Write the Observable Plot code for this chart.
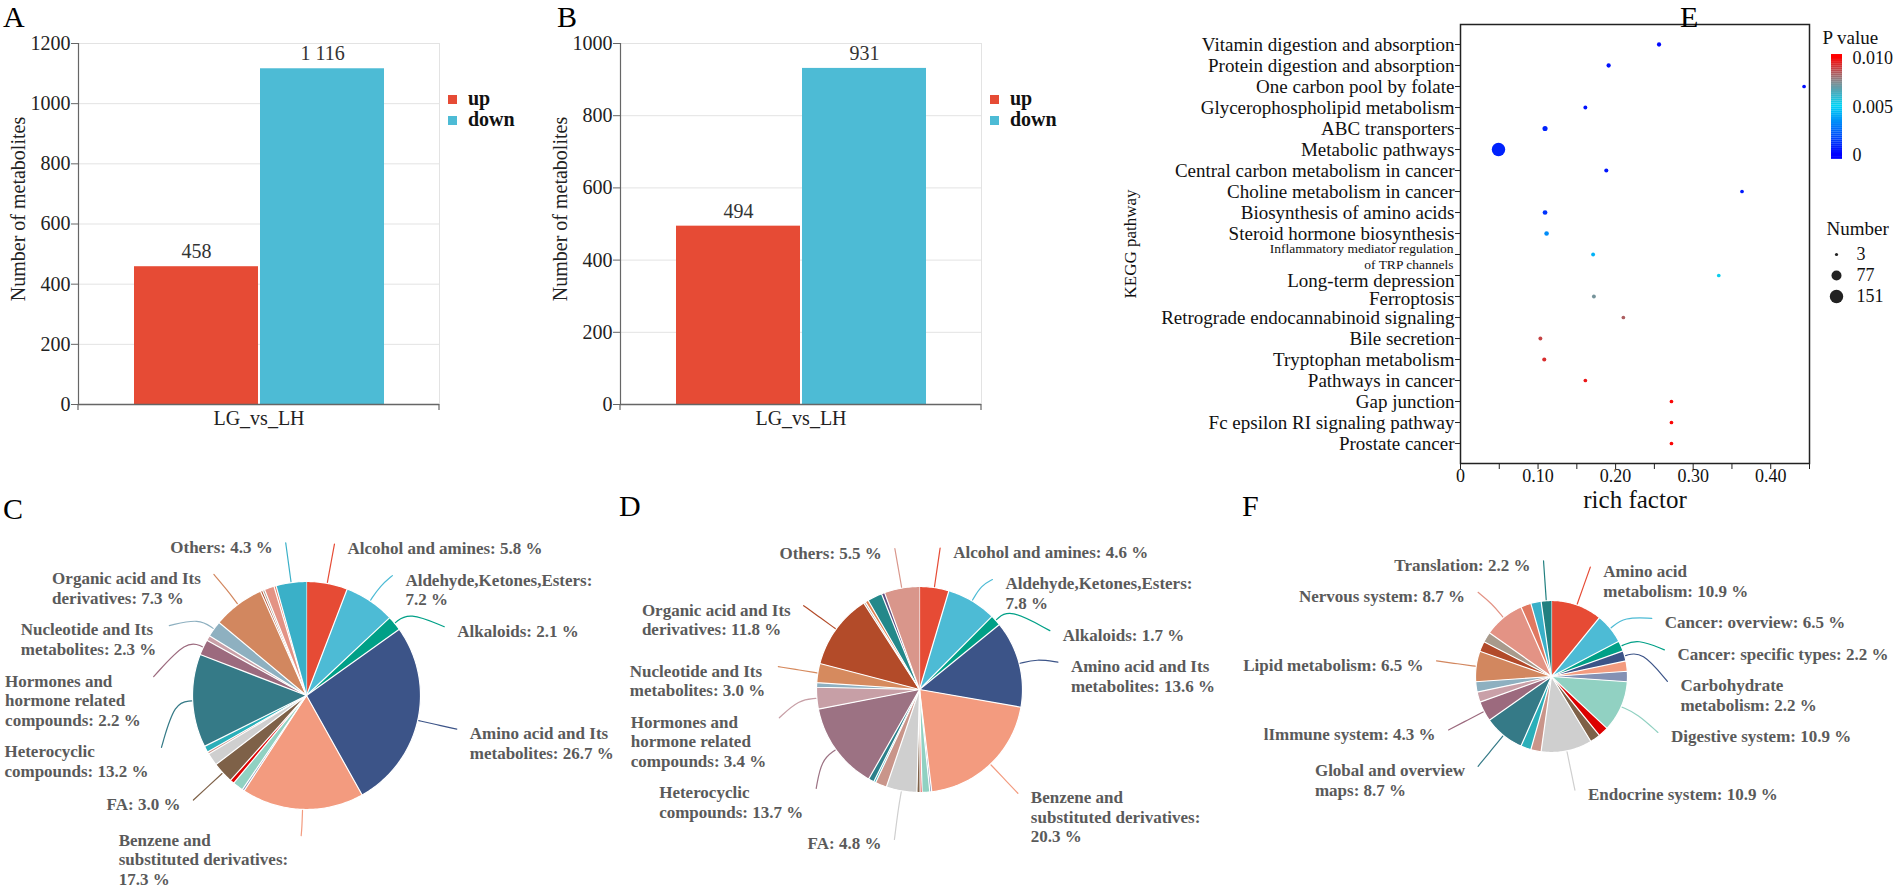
<!DOCTYPE html>
<html><head><meta charset="utf-8">
<script src="https://cdn.jsdelivr.net/npm/d3@7"></script>
<script src="https://cdn.jsdelivr.net/npm/@observablehq/plot@0.6"></script>
<style>
body{margin:0;background:#fff;}
#fig{position:relative;width:1904px;height:890px;overflow:hidden;font-family:"Liberation Serif","Times New Roman",serif;background:#fff;}
.letter{position:absolute;font-size:30px;line-height:30px;color:#000;}
.leg{position:absolute;font-weight:bold;font-size:20px;line-height:21px;color:#111;white-space:nowrap}
.leg .sw{display:inline-block;width:9px;height:9px;margin-right:11px;vertical-align:1px}
</style></head><body><div id="fig"></div><script>
// ---------------- DATA ----------------
// Panels A & B
const groupLabel = "LG_vs_LH";
const regulation = ["up", "down"];
const regulationColors = ["#E64B35", "#4DBBD5"];
const countsA = [458, 1116];
const countsB = [494, 931];
const yTicksA = [0, 200, 400, 600, 800, 1000, 1200];
const yTicksB = [0, 200, 400, 600, 800, 1000];
const barYLabel = "Number of metabolites";

// Panel E
const pathways = ["Vitamin digestion and absorption","Protein digestion and absorption","One carbon pool by folate","Glycerophospholipid metabolism","ABC transporters","Metabolic pathways","Central carbon metabolism in cancer","Choline metabolism in cancer","Biosynthesis of amino acids","Steroid hormone biosynthesis","Inflammatory mediator regulation of TRP channels","Long-term depression","Ferroptosis","Retrograde endocannabinoid signaling","Bile secretion","Tryptophan metabolism","Pathways in cancer","Gap junction","Fc epsilon RI signaling pathway","Prostate cancer"];
const richFactor = [0.256,0.191,0.443,0.161,0.109,0.049,0.188,0.363,0.109,0.111,0.171,0.333,0.172,0.210,0.103,0.108,0.161,0.272,0.272,0.272];
const pValue = [0.0002,0.0004,0.0003,0.0004,0.0008,0.0008,0.0005,0.0006,0.0012,0.0033,0.0042,0.0052,0.0072,0.0083,0.0088,0.0092,0.0096,0.0099,0.0099,0.0099];
const hitCount = [8,8,5,6,14,151,7,5,11,10,6,5,6,5,6,7,5,5,5,5];
const richTicks = [0,0.05,0.10,0.15,0.20,0.25,0.30,0.35,0.40,0.45];
const pStops = [0, 0.005, 0.0075, 0.010];
const pColors = ["#0000ff", "#00d4f5", "#858a8e", "#ff0000"];
const pLegendTicks = [0, 0.005, 0.010];
const sizeLegend = [3, 77, 151];

// Panel C
const valuesC = [5.8,7.2,2.1,26.7,17.3,0.3,1.5,0.6,3.0,1.8,0.3,0.9,13.2,2.2,0.7,2.3,7.3,0.3,0.3,1.4,0.3,4.3];
const colorsC = ["#E64B35","#4DBBD5","#00A087","#3C5488","#F39B7F","#8491B4","#91D1C2","#DC0000","#7E6148","#CFCFCF","#C9958A","#2AAFB9","#357A87","#9C6A7E","#C9A0A8","#8EB0C0","#D2875F","#B24A2A","#A89A8C","#E39385","#E07860","#3AB0C8"];
const labelsC = ["Alcohol and amines: 5.8 %","Aldehyde,Ketones,Esters:\n7.2 %","Alkaloids: 2.1 %","Amino acid and Its\nmetabolites: 26.7 %","Benzene and\nsubstituted derivatives:\n17.3 %",null,null,null,"FA: 3.0 %",null,null,null,"Heterocyclic\ncompounds: 13.2 %","Hormones and\nhormone related\ncompounds: 2.2 %",null,"Nucleotide and Its\nmetabolites: 2.3 %","Organic acid and Its\nderivatives: 7.3 %",null,null,null,null,"Others: 4.3 %"];

// Panel D
const valuesD = [4.6,7.8,1.7,13.6,20.3,0.3,1.2,0.3,0.5,4.8,1.8,0.3,0.9,13.7,3.4,0.7,3.0,11.8,0.3,0.5,2.3,0.5,5.5];
const colorsD = ["#E64B35","#4DBBD5","#00A087","#3C5488","#F39B7F","#8491B4","#91D1C2","#DC0000","#7E6148","#CFCFCF","#C9958A","#2AAFB9","#2A7F8A","#9C7283","#C79FA6","#8EB0C0","#D68A5E","#B34B29","#A89A8C","#E08050","#24888A","#5E4F80","#D9968B"];
const labelsD = ["Alcohol and amines: 4.6 %","Aldehyde,Ketones,Esters:\n7.8 %","Alkaloids: 1.7 %","Amino acid and Its\nmetabolites: 13.6 %","Benzene and\nsubstituted derivatives:\n20.3 %",null,null,null,null,"FA: 4.8 %",null,null,null,"Heterocyclic\ncompounds: 13.7 %","Hormones and\nhormone related\ncompounds: 3.4 %",null,"Nucleotide and Its\nmetabolites: 3.0 %","Organic acid and Its\nderivatives: 11.8 %",null,null,null,null,"Others: 5.5 %"];

// Panel F
const valuesF = [10.9,6.5,2.2,2.2,2.2,2.2,10.9,2.2,2.2,10.9,2.2,2.2,8.7,4.3,2.2,2.2,6.5,2.2,2.2,8.7,2.2,2.2,2.2];
const colorsF = ["#E64B35","#4DBBD5","#00A087","#3C5488","#F39B7F","#8491B4","#91D1C2","#DC0000","#7E6148","#CFCFCF","#C9958A","#2AAFB9","#357A87","#9C6A7E","#C9A0A8","#8EB0C0","#D2875F","#B24A2A","#A89A8C","#E39385","#E07860","#3AB0C8","#228080"];
const labelsF = ["Amino acid\nmetabolism: 10.9 %","Cancer: overview: 6.5 %","Cancer: specific types: 2.2 %","Carbohydrate\nmetabolism: 2.2 %",null,null,"Digestive system: 10.9 %",null,null,"Endocrine system: 10.9 %",null,null,"Global and overview\nmaps: 8.7 %","lImmune system: 4.3 %",null,null,"Lipid metabolism: 6.5 %",null,null,"Nervous system: 8.7 %",null,null,"Translation: 2.2 %"];

// ---------------- RENDER ----------------
const SERIF = "'Liberation Serif', 'Times New Roman', serif";
const fig = document.getElementById("fig");
function place(el, left, top) { el.style.position = "absolute"; el.style.left = left + "px"; el.style.top = top + "px"; fig.appendChild(el); return el; }
function letter(t, x, y) { const d = document.createElement("div"); d.className = "letter"; d.textContent = t; place(d, x, y); }
const spaced = d3.formatLocale({decimal: ".", thousands: " ", grouping: [3], currency: ["", ""]}).format(",");

const endTicks = (index, scales, values, dims) => {
  const g = d3.create("svg:g");
  const y = dims.height - dims.marginBottom;
  for (const x of [dims.marginLeft, dims.width - dims.marginRight])
    g.append("line").attr("x1", x).attr("x2", x).attr("y1", y).attr("y2", y + 6).attr("stroke", "#666").attr("stroke-width", 1.2);
  return g.node();
};

function barPanel(counts, ticks, left) {
  const data = regulation.map((r, i) => ({reg: r, count: counts[i]}));
  const p = Plot.plot({
    width: 445, height: 440, marginLeft: 78, marginRight: 6, marginTop: 43, marginBottom: 36,
    style: {fontFamily: SERIF, background: "transparent", overflow: "visible", color: "#222"},
    x: {domain: regulation, paddingInner: 0.016, paddingOuter: 0.44, axis: null},
    y: {domain: [0, d3.max(ticks)], axis: null},
    color: {domain: regulation, range: regulationColors},
    marks: [
      Plot.gridY(ticks.slice(1), {stroke: "#e3e3e3", strokeOpacity: 1}),
      Plot.frame({anchor: "right", stroke: "#e3e3e3"}),
      Plot.barY(data, {x: "reg", y: "count", fill: "reg"}),
      Plot.axisY(ticks, {tickSize: 7, tickPadding: 1, fontSize: 20, stroke: "#666", label: null, tickFormat: d => String(d)}),
      Plot.frame({anchor: "left", stroke: "#666", strokeWidth: 1.2}),
      Plot.ruleY([0], {stroke: "#666", strokeWidth: 1.5}),
      endTicks,
      Plot.text(data, {x: "reg", y: "count", text: d => spaced(d.count), dy: -15, fontSize: 20, fill: "#333"}),
      Plot.text([groupLabel], {frameAnchor: "bottom", lineAnchor: "middle", textAnchor: "middle", dy: 14, fontSize: 20, fill: "#222"}),
      Plot.text([barYLabel], {frameAnchor: "left", textAnchor: "middle", lineAnchor: "middle", rotate: -90, dx: -60, dy: -15, fontSize: 20, fill: "#222"})
    ]
  });
  place(p, left, 0);
  const leg = document.createElement("div");
  leg.className = "leg";
  leg.innerHTML = regulation.map((r, i) => `<div><span class="sw" style="background:${regulationColors[i]}"></span>${r}</div>`).join("");
  place(leg, left + 448, 88);
}
barPanel(countsA, yTicksA, 0);
barPanel(countsB, yTicksB, 542);

// Panel E
const eData = pathways.map((p, i) => ({pathway: p, rf: richFactor[i], p: pValue[i], n: hitCount[i]}));
const wrap = (s, n) => { if (s.length <= n) return s; const k = s.lastIndexOf(" ", n); return s.slice(0, k) + "\n" + s.slice(k + 1); };
const isLong = d => d.length > 40;
const longNames = pathways.filter(isLong);
// rows that follow a wrapped label are nudged down, as in the original figure
const nudge = new Map();
pathways.forEach((d, i) => { if (isLong(d)) { nudge.set(pathways[i + 1], 5); nudge.set(pathways[i + 2], 2); } });
const plainRows = pathways.filter(d => !isLong(d) && !nudge.has(d));
const colorCfg = {type: "linear", domain: pStops, range: pColors, clamp: true};
const rCfg = {type: "sqrt", domain: [d3.min(sizeLegend), d3.max(sizeLegend)], range: [1.6, 6.7]};
const rowLabel = (rows, dy) => Plot.text(rows, {y: d => d, frameAnchor: "left", dx: -6, dy, textAnchor: "end", lineAnchor: "middle", fontSize: 19, fill: "#111"});
const E = Plot.plot({
  width: 720, height: 520, marginLeft: 360, marginRight: 11, marginTop: 24, marginBottom: 57,
  style: {fontFamily: SERIF, background: "transparent", overflow: "visible", color: "#111"},
  x: {domain: [0, 0.45], axis: null},
  y: {domain: pathways, type: "point", padding: 0.6, axis: null},
  color: colorCfg,
  r: rCfg,
  marks: [
    Plot.dot(eData, {x: "rf", y: "pathway", r: "n", fill: "p"}),
    Plot.frame({stroke: "#222", strokeWidth: 1.5}),
    Plot.axisX(richTicks, {tickSize: 6, tickPadding: 0, fontSize: 18, stroke: "#222", label: null,
      tickFormat: d => d === 0 ? "0" : (Math.round(d * 100) % 10 === 0 && d < 0.44 ? d.toFixed(2) : "")}),
    Plot.axisY(pathways, {tickSize: 5, stroke: "#222", label: null, tickFormat: () => ""}),
    rowLabel(plainRows, 0),
    ...[...new Set(nudge.values())].map(v => rowLabel([...nudge].filter(([, s]) => s === v).map(([k]) => k), v)),
    Plot.text(longNames, {y: d => d, frameAnchor: "left", dx: -7, dy: 1, textAnchor: "end", lineAnchor: "middle", text: d => wrap(d, 34), fontSize: 13.5, lineHeight: 1.2}),
    Plot.text(["rich factor"], {frameAnchor: "bottom", lineAnchor: "middle", textAnchor: "middle", dy: 36, fontSize: 25}),
    Plot.text(["KEGG pathway"], {frameAnchor: "left", textAnchor: "middle", lineAnchor: "middle", rotate: -90, dx: -330, fontSize: 17})
  ]
});
place(E, 1100, 0);

const PL = Plot.plot({
  width: 90, height: 170, marginLeft: 17, marginRight: 62, marginTop: 58, marginBottom: 15,
  style: {fontFamily: SERIF, background: "transparent", overflow: "visible", color: "#111"},
  x: {axis: null}, y: {domain: [0, 0.01], axis: null},
  color: colorCfg,
  marks: [
    Plot.rect(d3.range(-0.0004, 0.0104, 0.0002), {y1: d => d, y2: d => d + 0.00021, fill: d => d}),
    Plot.text(pLegendTicks, {y: d => d, text: d => d === 0 ? "0" : d.toFixed(3), frameAnchor: "right", dx: 10, textAnchor: "start", lineAnchor: "middle", fontSize: 18}),
    Plot.text(["P value"], {frameAnchor: "top-left", dx: -9, dy: -21, textAnchor: "start", lineAnchor: "middle", fontSize: 19})
  ]
});
place(PL, 1814, 0);

const NL = Plot.plot({
  width: 90, height: 110, marginLeft: 17, marginRight: 63, marginTop: 53, marginBottom: 14,
  style: {fontFamily: SERIF, background: "transparent", overflow: "visible", color: "#111"},
  x: {axis: null}, y: {domain: sizeLegend.map(String), type: "point", padding: 0, axis: null},
  r: rCfg,
  marks: [
    Plot.dot(sizeLegend, {y: d => String(d), r: d => d, fill: "#222"}),
    Plot.text(sizeLegend, {y: d => String(d), text: d => String(d), frameAnchor: "right", dx: 15, textAnchor: "start", lineAnchor: "middle", fontSize: 18}),
    Plot.text(["Number"], {frameAnchor: "top-left", dx: -5, dy: -25, textAnchor: "start", lineAnchor: "middle", fontSize: 19})
  ]
});
place(NL, 1814, 200);

// Pies C, D, F
const ctx = document.createElement("canvas").getContext("2d");
ctx.font = "bold 17px 'Liberation Serif'";
const textW = s => d3.max(s.split("\n"), l => ctx.measureText(l).width);
const polys = [], leaders = [], texts = [];
const PIE_H = 460, LH = 17 * 1.15, GAP = 12, BOTTOM = PIE_H - 6;
function buildPie(key, cx, cy, r, values, colors, labels) {
  const total = d3.sum(values);
  let acc = 0;
  const slices = values.map((v, i) => { const a0 = acc / total * 2 * Math.PI; acc += v; return {key: key + i, a0, a1: acc / total * 2 * Math.PI, color: colors[i], label: labels[i]}; });
  for (const s of slices) {
    const n = Math.max(2, Math.ceil((s.a1 - s.a0) / (Math.PI / 180)));
    polys.push({key: s.key, x: cx, y: cy, color: s.color});
    for (let j = 0; j <= n; j++) { const a = s.a0 + (s.a1 - s.a0) * j / n; polys.push({key: s.key, x: cx + r * Math.sin(a), y: cy - r * Math.cos(a), color: s.color}); }
  }
  const R1 = r + 40;
  const items = slices.filter(s => s.label).map(s => {
    const am = (s.a0 + s.a1) / 2;
    return {...s, am, right: am < Math.PI, y0: cy - R1 * Math.cos(am), x0: cx + R1 * Math.sin(am), y: cy - R1 * Math.cos(am), n: s.label.split("\n").length};
  });
  for (const side of [true, false]) {
    const list = items.filter(d => d.right === side).sort((a, b) => a.y - b.y);
    for (let k = 1; k < list.length; k++) { const prev = list[k - 1]; const minY = prev.y + prev.n * LH + GAP; if (list[k].y < minY) list[k].y = minY; }
    let maxY = BOTTOM;
    for (let k = list.length - 1; k >= 0; k--) {
      const limit = maxY + LH / 2 - list[k].n * LH;
      if (list[k].y > limit) list[k].y = limit;
      maxY = list[k].y - LH / 2 - GAP;
    }
  }
  for (const d of items) {
    const dy = d.y - cy;
    if (Math.abs(d.y - d.y0) < 15) d.x = d.x0;
    else { const dx = Math.sqrt(Math.max(0, R1 * R1 - dy * dy)); d.x = cx + (d.right ? dx : -dx); }
    const pts = [[r + 1, d.am], [r + 18, d.am]].map(([rr, a]) => ({x: cx + rr * Math.sin(a), y: cy - rr * Math.cos(a)}));
    pts.push({x: d.x, y: d.y});
    pts.forEach(p => leaders.push({key: d.key, x: p.x, y: p.y, color: d.color}));
    texts.push({x: d.right ? d.x + 13 : d.x - 13 - textW(d.label), y: d.y, text: d.label});
  }
}
buildPie("C", 306, 265, 114, valuesC, colorsC, labelsC);
buildPie("D", 919, 259, 103, valuesD, colorsD, labelsD);
buildPie("F", 1551, 246, 76, valuesF, colorsF, labelsF);
const PIE = Plot.plot({
  width: 1904, height: PIE_H, margin: 0,
  style: {fontFamily: SERIF, background: "transparent", overflow: "visible"},
  x: {domain: [0, 1904], range: [0, 1904], axis: null},
  y: {domain: [0, PIE_H], range: [0, PIE_H], axis: null},
  color: {type: "identity"},
  marks: [
    Plot.line(polys, {x: "x", y: "y", z: "key", fill: "color", stroke: "white", strokeWidth: 1.2, strokeLinejoin: "round"}),
    Plot.line(leaders, {x: "x", y: "y", z: "key", stroke: "color", strokeWidth: 1.2, curve: "basis"}),
    Plot.text(texts, {x: "x", y: "y", text: "text", textAnchor: "start", lineAnchor: "top", dy: -4, fontSize: 17, fontWeight: "bold", fill: "#5a5a5a", lineHeight: 1.15})
  ]
});
place(PIE, 0, 430);

letter("A", 3, 2); letter("B", 557, 2); letter("C", 3, 494); letter("D", 619, 491); letter("E", 1680, 2); letter("F", 1242, 491);
</script></body></html>
